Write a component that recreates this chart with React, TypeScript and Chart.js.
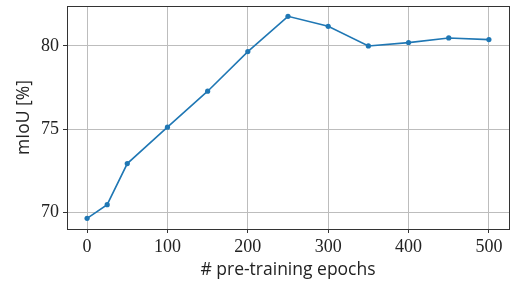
import React, { useEffect, useRef } from "react";
import { Chart, registerables } from "chart.js";

Chart.register(...registerables);

const epochs = [0, 25, 50, 100, 150, 200, 250, 300, 350, 400, 450, 500];
const miou = [69.64, 70.46, 72.93, 75.12, 77.28, 79.66, 81.78, 81.18, 80.0, 80.2, 80.48, 80.38];
const xTicks = [0, 100, 200, 300, 400, 500];
const yTicks = [70, 75, 80];

const framePlugin = {
  id: "frame",
  afterDraw(chart: any) {
    const { ctx, chartArea } = chart;
    ctx.save();
    ctx.strokeStyle = "#333333";
    ctx.lineWidth = 1;
    ctx.strokeRect(
      Math.round(chartArea.left) + 0.5,
      Math.round(chartArea.top) + 0.5,
      Math.round(chartArea.right - chartArea.left),
      Math.round(chartArea.bottom - chartArea.top)
    );
    ctx.restore();
  },
};

export default function App() {
  const ref = useRef<HTMLCanvasElement | null>(null);
  useEffect(() => {
    document.body.style.margin = "0";
    const chart = new Chart(ref.current as HTMLCanvasElement, {
      type: "line",
      data: {
        datasets: [
          {
            data: epochs.map((e, i) => ({ x: e, y: miou[i] })),
            borderColor: "#1f77b4",
            backgroundColor: "#1f77b4",
            borderWidth: 1.6,
            pointRadius: 2.6,
            pointBorderWidth: 0,
            tension: 0,
          },
        ],
      },
      options: {
        animation: false,
        responsive: false,
        maintainAspectRatio: false,
        layout: { autoPadding: false, padding: { left: 0, right: 1, top: 6, bottom: 0 } },
        plugins: { legend: { display: false }, tooltip: { enabled: false } },
        scales: {
          x: {
            type: "linear",
            min: -25,
            max: 525,
            afterBuildTicks: (s: any) => {
              s.ticks = xTicks.map((v) => ({ value: v }));
            },
            afterFit: (s: any) => {
              s.height = 53;
              s.paddingLeft = 0;
              s.paddingRight = 0;
            },
            grid: { color: "#bdbdbd", tickColor: "#333333", tickLength: 4, lineWidth: 1 },
            border: { display: false },
            ticks: {
              color: "#222",
              font: { family: "Liberation Serif", size: 18 },
              padding: 3,
              maxRotation: 0,
            },
            title: {
              display: true,
              text: "# pre-training epochs",
              color: "#222",
              font: { family: "Open Sans", size: 17.5 },
              padding: { top: 0, bottom: 1 },
            },
          },
          y: {
            type: "linear",
            min: 69.0,
            max: 82.4,
            afterBuildTicks: (s: any) => {
              s.ticks = yTicks.map((v) => ({ value: v }));
            },
            afterFit: (s: any) => {
              s.width = 67;
              s.paddingTop = 0;
              s.paddingBottom = 0;
              s.paddingLeft = 0;
              s.paddingRight = 0;
            },
            grid: { color: "#bdbdbd", tickColor: "#333333", tickLength: 4, lineWidth: 1 },
            border: { display: false },
            ticks: {
              color: "#222",
              font: { family: "Liberation Serif", size: 18 },
              padding: 4,
            },
            title: {
              display: true,
              text: "mIoU [%]",
              color: "#222",
              font: { family: "Open Sans", size: 17.5 },
              padding: { top: 14, bottom: 0 },
            },
          },
        },
      },
      plugins: [framePlugin],
    } as any);
    return () => chart.destroy();
  }, []);
  return (
    <div style={{ width: 510, height: 282 }}>
      <canvas ref={ref} width={510} height={282} style={{ display: "block" }} />
    </div>
  );
}
